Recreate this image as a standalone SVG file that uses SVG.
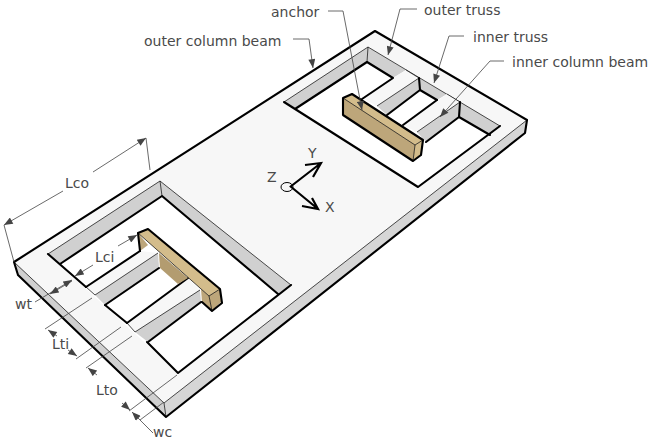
<svg xmlns="http://www.w3.org/2000/svg" width="652" height="441" viewBox="0 0 652 441">
<style>
text{font-family:"DejaVu Sans","Liberation Sans",sans-serif;font-size:14px;fill:#4a4a4a}
.t{stroke:#000;stroke-width:.7;stroke-linejoin:round}
.k{fill:none;stroke:#000;stroke-width:2.1;stroke-linecap:round;stroke-linejoin:round}
.f{fill:#f7f7f7}.w{fill:#fff}.g{fill:#d0d0d0}.h{fill:#d6d6d6}
.a{fill:#d3bc8b}.b{fill:#bda67a}.c{fill:#b39c70}
.l{fill:none;stroke:#444;stroke-width:.8}
.ax{fill:none;stroke:#000;stroke-width:2.2}
</style>
<defs>
<marker id="ar" viewBox="0 0 10 8" refX="10" refY="4" markerWidth="10" markerHeight="7" markerUnits="userSpaceOnUse" orient="auto"><path d="M0 0L10 4L0 8Z" fill="#444"/></marker>
</defs>
<rect width="652" height="441" fill="#fff"/>
<g id="slab">
<polygon class="f" points="14,262 375,31 527,120 164,403"/>
<polygon class="g" points="14,262 164,403 166,417 18,275"/>
<polygon class="h" points="164,403 527,120 525,133 166,417"/>
<path class="t" fill="none" d="M14 262L164 403L166 417M164 403L527 120"/>
<path class="k" d="M18 275L14 262L375 31L527 120L525 133L166 417L18 275"/>
</g>
<g id="left-hole">
<polygon class="w" points="48,254 160,181 291,285 178,373"/>
<polygon class="g" points="48,254 160,181 162,196 60,264"/>
<polygon class="g" points="160,181 291,285 278,294 162,196"/>
<path class="t" fill="none" d="M48 254L160 181L291 285M160 181L162 196"/>
<path class="k" d="M60 264L162 196L278 294M291 285L178 373L147 342M127 323L105 305M86 287L48 254"/>
</g>
<g id="left-inner-truss">
<polygon class="f" points="86,287 140,251 158,253 95,295"/>
<polygon class="g" points="95,295 158,253 159,268 105,305"/>
<path class="t" fill="none" d="M95 295L158 253M86 287L95 295"/>
<path class="k" d="M86 287L140 251M105 305L159 268"/>
</g>
<g id="left-outer-truss">
<polygon class="f" points="127,323 188,278 200,290 135,332"/>
<polygon class="g" points="135,332 200,290 201,302 148,342"/>
<path class="t" fill="none" d="M135 332L200 290M127 323L135 332"/>
<path class="k" d="M127 323L188 278M148 342L201 302"/>
</g>
<g id="left-anchor">
<polygon class="b" points="138,233 148,245 140,251"/>
<polygon class="c" points="159,253 188,278 178,284 160,268"/>
<polygon class="a" points="138,233 148,229 220,289 209,296"/>
<polygon class="b" points="201,289 209,296 212,311 202,302"/>
<polygon class="b" points="209,296 220,289 221,302 212,311"/>
<path class="t" fill="none" d="M138 233L209 296L220 289M209 296L212 311"/>
<path class="k" d="M138 233L148 229L220 289L222 303L212 311L202 302M138 233L140 251"/>
</g>
<g id="right-hole">
<polygon class="w" points="284,102 368,47 500,126 418,187"/>
<polygon class="g" points="284,102 368,47 367,62 295,109"/>
<polygon class="g" points="368,47 406,70 393,78 367,62"/>
<polygon class="g" points="419,78 447,94 437,100 420,90"/>
<polygon class="g" points="460,102 500,126 490,135 459,117"/>
<path class="t" fill="none" d="M284 102L368 47L500 126M368 47L367 62"/>
<path class="k" d="M295 109L367 62L393 78M420 90L437 100M459 117L490 135M500 126L418 187L284 102"/>
</g>
<g id="right-inner-truss">
<polygon class="f" points="393,78 406,70 419,78 377,106 362,98"/>
<polygon class="g" points="419,78 420,90 387,115 377,106"/>
<path class="t" fill="none" d="M406 70L419 78L377 106"/>
<path class="k" d="M393 78L362 99M420 90L387 115M419 78L420 90"/>
</g>
<g id="right-outer-truss">
<polygon class="f" points="447,94 460,102 417,132 403,125"/>
<polygon class="g" points="460,102 459,117 426,142 417,132"/>
<path class="t" fill="none" d="M447 94L460 102L417 132"/>
<path class="k" d="M437 100L403 125M459 117L426 142M460 102L459 117"/>
</g>
<g id="right-anchor">
<polygon class="a" points="343,98 352,94 423,140 415,145"/>
<polygon class="b" points="343,98 415,145 413,161 343,115"/>
<polygon class="a" points="415,145 423,140 421,155 413,161"/>
<path class="t" fill="none" d="M343 98L415 145L423 140M415 145L413 161"/>
<path class="k" d="M343 115L343 98L352 94L423 140L421 155L413 161L343 115"/>
</g>
<g id="axes">
<ellipse cx="287" cy="187" rx="6" ry="4.500" fill="none" stroke="#000" stroke-width="1"/>
<path class="ax" d="M290 187L321 163M305 165L321 163L313 177M290 186L318 209M302 206L318 209L312 198"/>
</g>
<g id="connectors">
<path class="l" d="M328 11H343L362 110" marker-end="url(#ar)"/>
<path class="l" d="M417 9H400L388 55" marker-end="url(#ar)"/>
<path class="l" d="M464 36H449L434 83" marker-end="url(#ar)"/>
<path class="l" d="M504 61H490L440 117" marker-end="url(#ar)"/>
<path class="l" d="M293 39H309L313 68" marker-end="url(#ar)"/>
<path class="l" d="M14 262L4 225M150 170L146 138"/>
<path class="l" d="M63 191L4 225" marker-end="url(#ar)"/>
<path class="l" d="M93 172L146 138" marker-end="url(#ar)"/>
<path class="l" d="M118 246L137 235" marker-end="url(#ar)"/>
<path class="l" d="M93 265L75 276" marker-end="url(#ar)"/>
<path class="l" d="M72 281L50 294" marker-end="url(#ar)"/>
<path class="l" d="M35 302L72 280" marker-end="url(#ar)"/>
<path class="l" d="M45 329L92 298M76 359L121 327M86 368L132 336M129 411L177 375M140 420L164 402"/>
<path class="l" d="M57 336L48 330" marker-end="url(#ar)"/>
<path class="l" d="M68 350L77 356" marker-end="url(#ar)"/>
<path class="l" d="M97 375L88 368" marker-end="url(#ar)"/>
<path class="l" d="M122 403L130 410" marker-end="url(#ar)"/>
<path class="l" d="M153 433L132 412" marker-end="url(#ar)"/>
</g>
<g id="labels">
<text x="271" y="17">anchor</text>
<text x="424" y="15">outer truss</text>
<text x="473" y="42">inner truss</text>
<text x="512" y="67">inner column beam</text>
<text x="144" y="46">outer column beam</text>
<text x="65" y="188">Lco</text>
<text x="95" y="262">Lci</text>
<text x="15" y="309">wt</text>
<text x="52" y="349">Lti</text>
<text x="96" y="395">Lto</text>
<text x="153" y="437">wc</text>
<text x="308" y="158">Y</text>
<text x="267" y="182">Z</text>
<text x="325" y="212">X</text>
</g>
</svg>
